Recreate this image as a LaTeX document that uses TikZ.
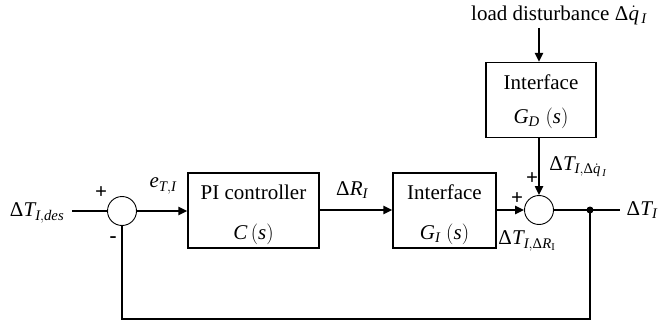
\documentclass[tikz,border=0pt]{standalone}
\usepackage{mathspec}
\setallmainfonts(Digits,Latin,Greek){Liberation Serif}
\usetikzlibrary{arrows.meta}
\begin{document}
\begin{tikzpicture}[x=1pt,y=-1pt,
  every node/.style={font=\fontsize{21}{25}\selectfont},
  blockbox/.style={draw,line width=1.2pt,minimum width=#1,minimum height=75pt,inner sep=0pt},
  sumnode/.style={draw,circle,line width=0.9pt,minimum size=29pt,inner sep=0pt},
  sig/.style={line width=2.2pt},
  sigarrow/.style={line width=2.2pt,-{Triangle[length=9pt,width=8pt]}},
  lbl/.style={inner sep=0pt}]
\useasboundingbox (0,0) rectangle (660,323);
% nodes
\node[lbl] (inlbl) at (37,213) {$\Delta T_{I,des}$};
\coordinate (instart) at (72,211);
\node[sumnode] (s1) at (122,211) {};
\node[blockbox=131pt] (pi) at (253.5,210.5) {};
\node[lbl] (pitxt) at (253.5,192) {PI controller};
\node[lbl] (pis) at (253.5,234) {$C\,(s)$};
\node[blockbox=103pt] (gi) at (444.5,210.5) {};
\node[lbl] (gitxt) at (444.5,192) {Interface};
\node[lbl] (gis) at (444.5,234) {$G_I\;(s)$};
\node[sumnode] (s2) at (539,210) {};
\node[blockbox=110pt] (gd) at (541,100) {};
\node[lbl] (gdtxt) at (541,82) {Interface};
\node[lbl] (gds) at (541,118) {$G_D\;(s)$};
\node[lbl] (load) at (559,15) {load disturbance $\Delta\dot{q}_{\,I}$};
\coordinate (loadstart) at (539,28);
\fill (590,210) circle (3.5pt) coordinate (br);
\coordinate (outend) at (620,210);
\node[lbl] (outlbl) at (642,210) {$\Delta T_I$};
\coordinate (fb1) at (590,319);
\coordinate (fb2) at (122,319);
% labels
\node[lbl] (plus1) at (101,193) {\textbf{+}};
\node[lbl] (minus1) at (113,240) {\textbf{-}};
\node[lbl] (eti) at (163,186) {$e_{T,I}$};
\node[lbl] (dri) at (352,190) {$\Delta R_I$};
\node[lbl] (plus2) at (517,199) {\textbf{+}};
\node[lbl] (plus3) at (532,179) {\textbf{+}};
\node[lbl] (dtq) at (578,167) {$\Delta T_{I,\Delta\dot{q}_{\,I}}$};
\node[lbl] (dtr) at (527,241) {$\Delta T_{I,\Delta R_{\mathrm{I}}}$};
% connectors
\draw[sig] (instart) -- (s1.west);
\draw[sigarrow] (s1.east) -- (pi.west |- s1.east);
\draw[sigarrow] (pi.east |- 0,210) -- (gi.west |- 0,210);
\draw[sigarrow] (gi.east |- s2.west) -- (s2.west);
\draw[sigarrow] (loadstart) -- (loadstart |- gd.north);
\draw[sigarrow] (s2.north |- gd.south) -- (s2.north);
\draw[sig] (s2.east) -- (outend);
\draw[sig] (br) -- (fb1) -- (fb2) -- (s1.south);
\end{tikzpicture}
\end{document}
